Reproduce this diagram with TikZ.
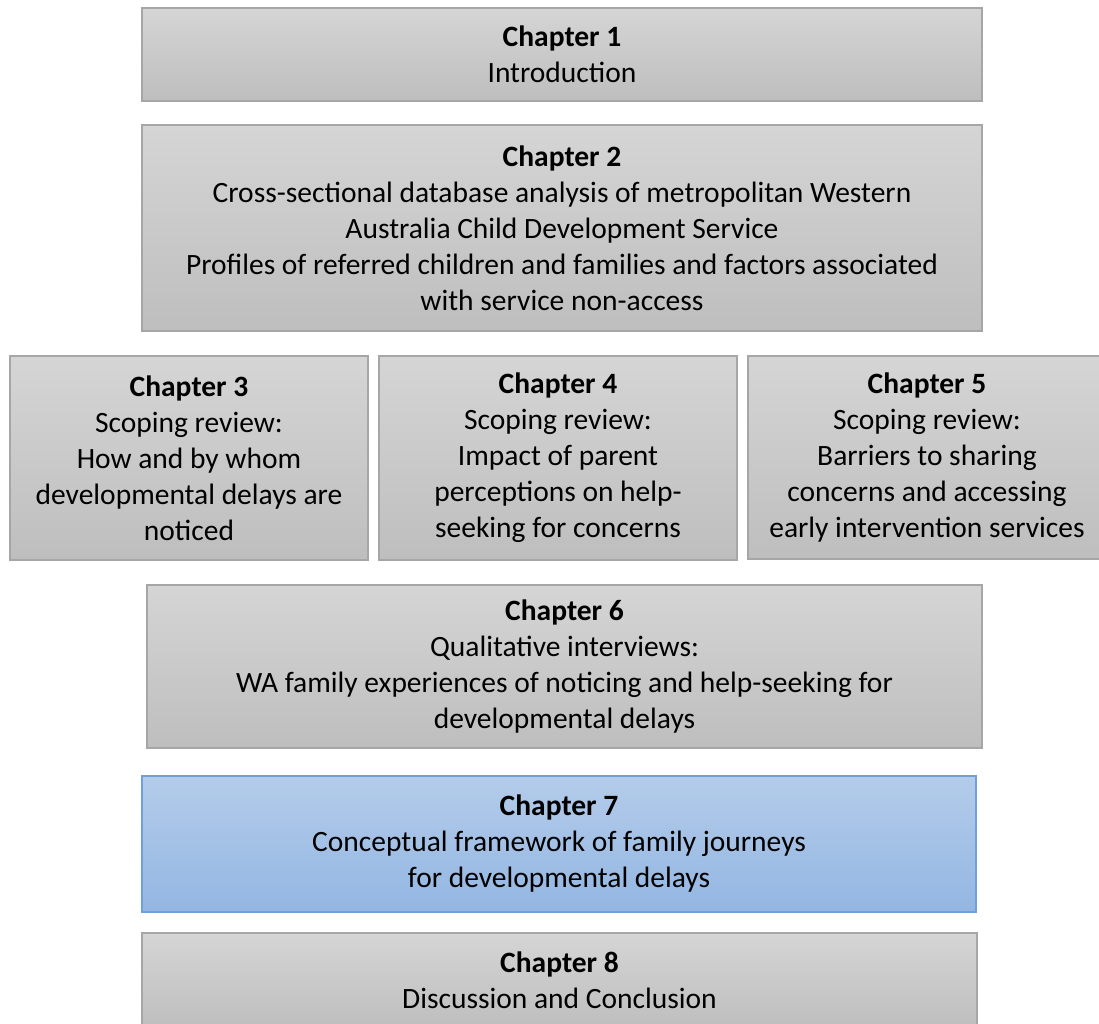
\documentclass[tikz,border=0pt]{standalone}
\usepackage{fontspec}
\setmainfont{Carlito}
\definecolor{greytop}{HTML}{D5D5D5}
\definecolor{greybot}{HTML}{BEBEBE}
\definecolor{greyline}{HTML}{A6A6A6}
\definecolor{bluetop}{HTML}{B4CCEA}
\definecolor{bluebot}{HTML}{93B6E2}
\definecolor{blueline}{HTML}{6FA0DA}
\tikzset{
  chapbox/.style={draw=greyline, line width=1.5pt, top color=greytop, bottom color=greybot,
    align=center, inner sep=0pt, font=\fontsize{29.5}{36}\selectfont, text=black},
  bluebox/.style={chapbox, draw=blueline, top color=bluetop, bottom color=bluebot},
}
% place a box from its left/right/top/bottom edges (y measured downwards)
\newcommand{\chapnode}[7][chapbox]{%
  \node[#1, minimum width={(#5-#4)*1pt}, minimum height={(#7-#6)*1pt}]
    (#2) at ({(#4+#5)/2*1pt},{-(#6+#7)/2*1pt}) {#3};}
\begin{document}
\begin{tikzpicture}
\useasboundingbox[fill=white] (0,0) rectangle (1099pt,-1023pt);
\chapnode{c1}{\textbf{Chapter 1}\\Introduction}{142}{982}{8}{101}
\chapnode{c2}{\textbf{Chapter 2}\\Cross-sectional database analysis of metropolitan Western\\Australia Child Development Service\\Profiles of referred children and families and factors associated\\with service non-access}{142}{982}{125}{331}
\chapnode{c3}{\textbf{Chapter 3}\\Scoping review:\\How and by whom\\developmental delays are\\noticed}{10}{368}{356}{560}
\chapnode{c4}{\textbf{Chapter 4}\\Scoping review:\\Impact of parent\\perceptions on help-\\seeking for concerns}{379}{737}{356}{560}
\chapnode{c5}{\textbf{Chapter 5}\\Scoping review:\\Barriers to sharing\\concerns and accessing\\early intervention services}{748}{1106}{356}{559}
\chapnode{c6}{\textbf{Chapter 6}\\Qualitative interviews:\\WA family experiences of noticing and help-seeking for\\developmental delays}{147}{982}{585}{748}
\chapnode[bluebox]{c7}{\textbf{Chapter 7}\\Conceptual framework of family journeys\\for developmental delays}{142}{976}{776}{912}
\chapnode{c8}{\textbf{Chapter 8}\\Discussion and Conclusion}{142}{977}{933}{1028}
\end{tikzpicture}
\end{document}
